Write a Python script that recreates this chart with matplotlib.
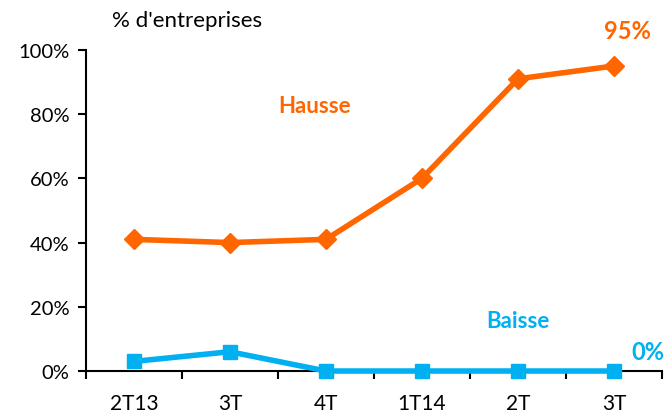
import numpy as np
import matplotlib
matplotlib.use("Agg")
import matplotlib.pyplot as plt

# data
quarters = ["2T13", "3T", "4T", "1T14", "2T", "3T"]
hausse = [41, 40, 41, 60, 91, 95]
baisse = [3, 6, 0, 0, 0, 0]

orange = "#FF6600"
blue = "#00B0F0"

plt.rcParams['font.family'] = ['Lato', 'DejaVu Sans']

fig = plt.figure(figsize=(6.66, 4.14), dpi=100)
ax = fig.add_axes([0.129, 0.1014, 0.865, 0.7756])

x = np.arange(len(quarters))
ax.plot(x, hausse, color=orange, lw=4, marker='D', markersize=10.5, clip_on=False, zorder=3)
ax.plot(x, baisse, color=blue, lw=4, marker='s', markersize=9.5, clip_on=False, zorder=3)

ax.set_xlim(-0.5, len(quarters) - 0.5)
ax.set_ylim(0, 100)
ax.set_yticks(np.arange(0, 101, 20))
ax.set_yticklabels([f"{v}%" for v in range(0, 101, 20)], fontsize=14.5)

# category labels centred, tick marks on the boundaries
ax.set_xticks(np.arange(-0.5, len(quarters)), minor=False)
ax.set_xticklabels([])
ax.set_xticks(x, minor=True)
ax.set_xticklabels(quarters, minor=True, fontsize=15)
ax.tick_params(axis='x', which='minor', length=0, pad=16)
ax.tick_params(axis='x', which='major', length=6, width=1.5, direction='out')
ax.tick_params(axis='y', length=6, width=1.5, direction='out', pad=6)

for s in ['top', 'right']:
    ax.spines[s].set_visible(False)
for s in ['left', 'bottom']:
    ax.spines[s].set_linewidth(1.5)

ax.text(1.885, 82.6, "Hausse", color=orange, fontsize=16, fontweight='bold', ha='center', va='center')
ax.text(4.0, 15.6, "Baisse", color=blue, fontsize=16, fontweight='bold', ha='center', va='center')
ax.text(5.135, 106, f"{hausse[-1]}%", color=orange, fontsize=17, fontweight='bold', ha='center', va='center', clip_on=False)
ax.text(5.35, 6.2, f"{baisse[-1]}%", color=blue, fontsize=17, fontweight='bold', ha='center', va='center', clip_on=False)
fig.text(0.281, 0.949, "% d'entreprises", fontsize=16, ha='center', va='center')

fig.savefig("out.png", dpi=100)
